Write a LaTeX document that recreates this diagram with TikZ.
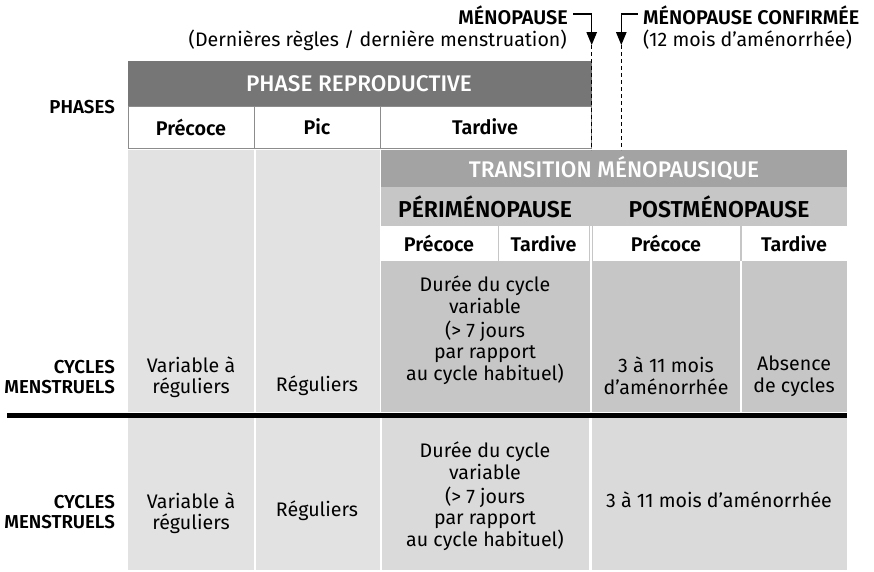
\documentclass[tikz,border=0pt]{standalone}
\usepackage{fontspec}
\setmainfont{Fira Sans}[BoldFont={Fira Sans SemiBold}]
\newfontfamily\medfont{Fira Sans Medium}
\usetikzlibrary{arrows.meta}
\definecolor{hdrdark}{HTML}{767676}
\definecolor{hdrmid}{HTML}{A3A3A3}
\definecolor{cellmid}{HTML}{C6C6C6}
\definecolor{celllight}{HTML}{E2E2E2}
\definecolor{celllow}{HTML}{DADADA}
\definecolor{rowline}{HTML}{8C8C8C}
\begin{document}
\begin{tikzpicture}[x=1pt,y=-1pt,
  txt/.style={font=\fontsize{19.6}{21.5}\selectfont, text=black, inner sep=0pt, align=center},
  hdr/.style={font=\fontsize{19.8}{21}\selectfont\bfseries, text=black, inner sep=0pt, align=center},
  bighdr/.style={font=\fontsize{23}{24}\selectfont\bfseries, text=black, inner sep=0pt, align=center},
  whitehdr/.style={font=\medfont\fontsize{22.6}{24}\selectfont, text=white, inner sep=0pt, align=center},
  sidelbl/.style={font=\fontsize{18.7}{20.5}\selectfont\bfseries, text=black, inner sep=0pt, align=right, anchor=east},
  wcell/.style={fill=white, draw=rowline, line width=0.8pt},
  pointer/.style={line width=1.2pt, -{Triangle[length=13pt,width=10.5pt]}},
  dashln/.style={line width=1.2pt, dash pattern=on 4pt off 3pt}
]
\useasboundingbox (0,0) rectangle (874,571);

% ---------- upper section backgrounds ----------
\fill[celllight] (128,150) rectangle (253.5,412);
\fill[celllight] (256,150) rectangle (379.5,412);
\fill[hdrmid] (381,150) rectangle (846.5,187);
\fill[cellmid] (381,187) rectangle (846.5,412);
% sub-row white cells
\fill[white] (381,226) rectangle (497.5,261);
\fill[white] (499,226) rectangle (588.5,261);
\fill[white] (593,226) rectangle (739.5,261);
\fill[white] (742,226) rectangle (846.5,261);
% white separators
\fill[white] (589.6,226) rectangle (592,412);
\fill[white] (740.2,261) rectangle (742.2,412);

% ---------- reproductive header ----------
\fill[hdrdark] (128,60.5) rectangle (591.5,106);
\draw[wcell] (128,106) rectangle (254.3,148);
\draw[wcell] (254.3,106) rectangle (380.5,148);
\draw[wcell] (380.5,106) rectangle (591,148);

% ---------- lower section ----------
\fill[celllight] (128,418) rectangle (253.5,570);
\fill[celllight] (256,418) rectangle (379.5,570);
\fill[celllow] (381.5,418) rectangle (589.3,570);
\fill[celllow] (592.3,418) rectangle (846.5,570);

% thick separator
\coordinate (sepL) at (7,415.5);
\coordinate (sepR) at (846.7,415.5);
\draw[line width=4.6pt] (sepL) -- (sepR);

% ---------- texts ----------
\node[whitehdr] (repro) at (359,84) {PHASE REPRODUCTIVE};
\node[hdr] (rp1) at (191,127) {Précoce};
\node[hdr] (rp2) at (317,127) {Pic};
\node[hdr] (rp3) at (485,127) {Tardive};
\node[sidelbl] (phases) at (115,107) {PHASES};

\node[whitehdr] (trans) at (614,168.5) {TRANSITION MÉNOPAUSIQUE};
\node[bighdr] (peri) at (485,206.5) {PÉRIMÉNOPAUSE};
\node[bighdr] (post) at (719,206.5) {POSTMÉNOPAUSE};
\node[hdr] (sp1) at (439,243.5) {Précoce};
\node[hdr] (sp2) at (543.5,243.5) {Tardive};
\node[hdr] (sp3) at (666,243.5) {Précoce};
\node[hdr] (sp4) at (794,243.5) {Tardive};

% upper cycle row
\node[sidelbl] (cyc1) at (115,377) {CYCLES\\MENSTRUELS};
\node[txt] (u1) at (191,377) {Variable à\\réguliers};
\node[txt] (u2) at (317,386) {Réguliers};
\node[txt] (u3) at (485,330) {Durée du cycle\\variable\\[2.5pt](> 7 jours\\par rapport\\au cycle habituel)};
\node[txt] (u4) at (666,376) {3 à 11 mois\\d’aménorrhée};
\node[txt] (u5) at (794,376) {Absence\\de cycles};

% lower cycle row
\node[sidelbl] (cyc2) at (115,512) {CYCLES\\MENSTRUELS};
\node[txt] (l1) at (191,513) {Variable à\\réguliers};
\node[txt] (l2) at (317,511) {Réguliers};
\node[txt] (l3) at (485,496) {Durée du cycle\\variable\\[2.5pt](> 7 jours\\par rapport\\au cycle habituel)};
\node[txt] (l4) at (719,499.5) {3 à 11 mois d’aménorrhée};

% ---------- menopause markers ----------
\node[hdr, anchor=east] (meno) at (568,15) {MÉNOPAUSE};
\node[txt, anchor=east] (menosub) at (567,40) {(Dernières règles / dernière menstruation)};
\node[hdr, anchor=west] (conf) at (643,15) {MÉNOPAUSE CONFIRMÉE};
\node[txt, anchor=west] (confsub) at (643,40) {(12 mois d’aménorrhée)};

\coordinate (m0) at (573,14);
\coordinate (m1) at (591.7,14);
\coordinate (m2) at (591.7,45);
\coordinate (m3) at (591.7,150);
\draw[pointer] (m0) -- (m1) -- (m2);
\draw[dashln] (m2) -- (m3);

\coordinate (c0) at (637.5,14);
\coordinate (c1) at (621.3,14);
\coordinate (c2) at (621.3,45);
\coordinate (c3) at (621.3,150);
\draw[pointer] (c0) -- (c1) -- (c2);
\draw[dashln] (c2) -- (c3);
\end{tikzpicture}
\end{document}
